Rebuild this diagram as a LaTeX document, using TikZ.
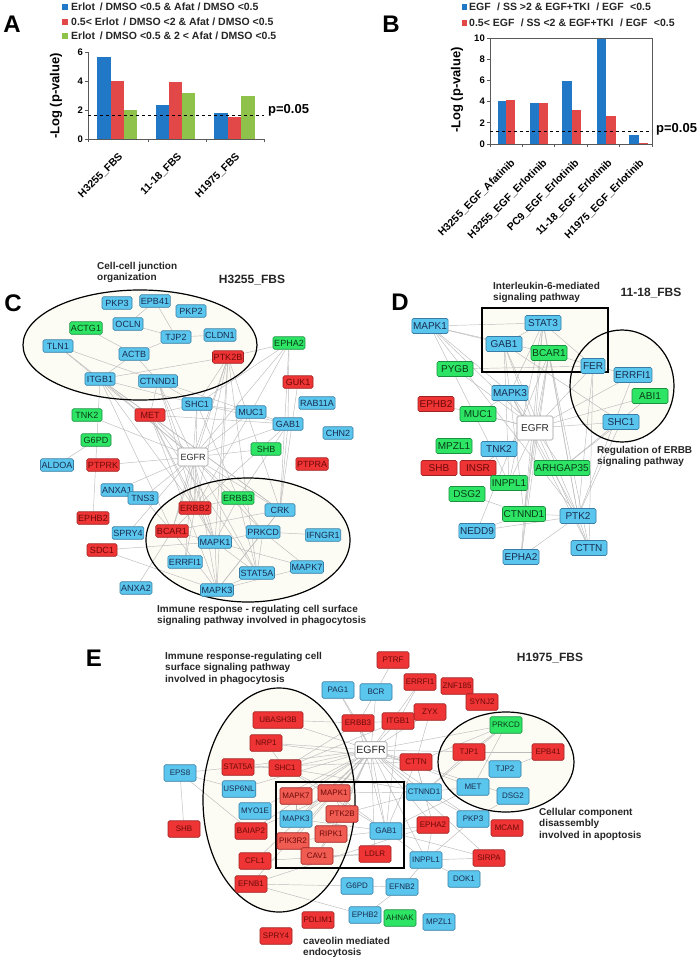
\documentclass[tikz,border=0pt]{standalone}
\usepackage{fontspec}
\setmainfont{Liberation Sans}
\definecolor{nblue}{RGB}{90,198,238}
\definecolor{nblueD}{RGB}{55,125,165}
\definecolor{nred}{RGB}{238,52,52}
\definecolor{nredL}{RGB}{240,92,82}
\definecolor{nredD}{RGB}{160,35,35}
\definecolor{ngreen}{RGB}{45,228,100}
\definecolor{ngreenD}{RGB}{25,145,65}
\definecolor{tblue}{RGB}{25,45,80}
\definecolor{tred}{RGB}{110,10,10}
\definecolor{tgreen}{RGB}{10,60,25}
\definecolor{edgegray}{RGB}{188,188,188}
\definecolor{cream}{RGB}{252,251,244}
\definecolor{barB}{RGB}{32,120,198}
\definecolor{barR}{RGB}{226,72,72}
\definecolor{barG}{RGB}{142,194,74}
\pgfdeclarelayer{bgfill}
\pgfdeclarelayer{edges}
\pgfsetlayers{bgfill,edges,main}
\begin{document}
\begin{tikzpicture}[x=1pt,y=-1pt,
  lnk/.style={draw=edgegray, line width=0.45pt},
  gbase/.style={draw, rounded corners=1.5pt, line width=0.6pt, inner xsep=1.2pt, inner ysep=1pt},
  pc/.style={gbase, font=\fontsize{9}{9}\selectfont, minimum width=30pt, minimum height=12.5pt},
  pd/.style={gbase, font=\fontsize{10}{10}\selectfont, minimum width=36pt, minimum height=15pt},
  pe/.style={gbase, font=\fontsize{8}{8}\selectfont, minimum width=32pt, minimum height=16.5pt},
  nb/.style={fill=nblue, draw=nblueD, text=tblue},
  nr/.style={fill=nred, draw=nredD, text=tred},
  nrl/.style={fill=nredL, draw=nredD, text=tred},
  ng/.style={fill=ngreen, draw=ngreenD, text=tgreen},
  nw/.style={fill=white, draw=gray!80, text=black!85},
  bigl/.style={font=\bfseries\fontsize{24}{24}\selectfont, inner sep=0pt},
  capt/.style={font=\bfseries\fontsize{10}{11.5}\selectfont, align=left, anchor=north west, inner sep=0pt, text=black!85},
  ttl/.style={font=\bfseries\fontsize{12}{12}\selectfont, text=black!85, inner sep=0pt},
  lg/.style={font=\bfseries\fontsize{10.5}{10.5}\selectfont, anchor=west, inner sep=0pt, text=black!85},
  tk/.style={font=\bfseries\fontsize{9.5}{9.5}\selectfont, anchor=east, inner sep=0pt},
  xl/.style={font=\bfseries\fontsize{10.5}{10.5}\selectfont, rotate=45, anchor=north east, inner sep=0pt},
  axl/.style={font=\bfseries\fontsize{13}{13}\selectfont, rotate=90, inner sep=0pt},
  pv/.style={font=\bfseries\fontsize{13}{13}\selectfont, anchor=west, inner sep=0pt},
  grp/.style={draw=black, line width=1.2pt},
]
\useasboundingbox (0,0) rectangle (700,960);
\begin{pgfonlayer}{bgfill}
\fill[white] (0,0) rectangle (700,960);
\end{pgfonlayer}

% ================= Panel A =================
\node[bigl] (lA) at (12,24) {A};
\fill[barB] (62,4) rectangle (68,10);
\node[lg] (lgA1) at (71,7) {Erlot\, / DMSO <0.5 \& Afat / DMSO <0.5};
\fill[barR] (62,19) rectangle (68,25);
\node[lg] (lgA2) at (71,22) {0.5< Erlot\, / DMSO <2 \& Afat / DMSO <0.5};
\fill[barG] (62,33) rectangle (68,39);
\node[lg] (lgA3) at (71,36) {Erlot\, / DMSO <0.5 \& 2 < Afat / DMSO <0.5};
\fill[barB] (97,139) rectangle (111,57);
\fill[barR] (111,139) rectangle (124,81);
\fill[barG] (124,139) rectangle (137,110);
\fill[barB] (156,139) rectangle (169,105);
\fill[barR] (169,139) rectangle (182,82);
\fill[barG] (182,139) rectangle (195,93);
\fill[barB] (214,139) rectangle (228,113);
\fill[barR] (228,139) rectangle (241,117);
\fill[barG] (241,139) rectangle (255,96);
\draw[line width=0.8pt,gray!70!black] (88,52) -- (88,139) -- (264,139);
\foreach \yy/\lab in {52/6,81/4,110/2,139/0}{
  \draw[line width=0.8pt,gray!70!black] (85,\yy) -- (88,\yy);
  \node[tk] at (83,\yy) {\lab};}
\foreach \xx in {88,148,206,264}{\draw[line width=0.8pt,gray!70!black] (\xx,139) -- (\xx,142);}
\draw[dashed, line width=0.8pt] (88,115) -- (264,115);
\node[pv] (pA) at (268,110) {p=0.05};
\node[axl] (yA) at (56,96) {-Log (p-value)};
\node[xl] (xA1) at (118,152) {H3255\_FBS};
\node[xl] (xA2) at (177,152) {11-18\_FBS};
\node[xl] (xA3) at (235,152) {H1975\_FBS};

% ================= Panel B =================
\node[bigl] (lB) at (391,24) {B};
\fill[barB] (462,4) rectangle (467,10);
\node[lg] (lgB1) at (469,7) {EGF\,\, / SS >2 \& EGF+TKI\,\, / EGF\,\, <0.5};
\fill[barR] (462,20) rectangle (467,26);
\node[lg] (lgB2) at (469,23) {0.5< EGF\,\, / SS <2 \& EGF+TKI\,\, / EGF\,\, <0.5};
\fill[barB] (498,144) rectangle (506,101);
\fill[barR] (506,144) rectangle (515,100.5);
\fill[barB] (530,144) rectangle (539,103.2);
\fill[barR] (539,144) rectangle (548,103.2);
\fill[barB] (562,144) rectangle (572,81);
\fill[barR] (572,144) rectangle (581,110);
\fill[barB] (597,144) rectangle (606,38);
\fill[barR] (606,144) rectangle (616,116.4);
\fill[barB] (629,144) rectangle (639,135.5);
\fill[barR] (639,144) rectangle (648,143);
\draw[line width=0.8pt,gray!70!black] (490,38) rectangle (652,144);
\foreach \yy/\lab in {38/10,59.2/8,80.4/6,101.6/4,122.8/2,144/0}{
  \draw[line width=0.8pt,gray!70!black] (487,\yy) -- (490,\yy);
  \node[tk] at (485,\yy) {\lab};}
\foreach \xx in {490,522.4,554.8,587.2,619.6,652}{\draw[line width=0.8pt,gray!70!black] (\xx,144) -- (\xx,147);}
\draw[dashed, line width=0.8pt] (490,131) -- (652,131);
\node[pv] (pB) at (656,129) {p=0.05};
\node[axl] (yB) at (457,90) {-Log (p-value)};
\node[xl] (xB1) at (510,158) {H3255\_EGF\_Afatinib};
\node[xl] (xB2) at (542,158) {H3255\_EGF\_Erlotinib};
\node[xl] (xB3) at (574,158) {PC9\_EGF\_Erlotinib};
\node[xl] (xB4) at (607,158) {11-18\_EGF\_Erlotinib};
\node[xl] (xB5) at (639,158) {H1975\_EGF\_Erlotinib};

% ================= Panel C =================
\node[bigl] (lC) at (13,303) {C};
\node[capt] (capC1) at (97,262) {Cell-cell junction\\organization};
\node[ttl] (tC) at (252,280) {H3255\_FBS};
\begin{pgfonlayer}{bgfill}
\fill[cream] (140,345) ellipse [x radius=117pt, y radius=55pt];
\fill[cream] (248,540) ellipse [x radius=102pt, y radius=62pt];
\end{pgfonlayer}
\draw[grp] (140,345) ellipse [x radius=117pt, y radius=55pt];
\draw[grp] (248,540) ellipse [x radius=102pt, y radius=62pt];
\node[capt] (capC2) at (157,605) {Immune response - regulating cell surface\\signaling pathway involved in phagocytosis};

\node[pc,nb] (cPKP3) at (117,303) {PKP3};
\node[pc,nb] (cEPB41) at (155,301) {EPB41};
\node[pc,nb] (cPKP2) at (191,311) {PKP2};
\node[pc,nb] (cOCLN) at (128,324) {OCLN};
\node[pc,ng] (cACTG1) at (86,328) {ACTG1};
\node[pc,nb] (cTJP2) at (176,337) {TJP2};
\node[pc,nb] (cCLDN1) at (220,335) {CLDN1};
\node[pc,nb] (cTLN1) at (58,346) {TLN1};
\node[pc,nb] (cACTB) at (134,354) {ACTB};
\node[pc,ng] (cEPHA2) at (289,343) {EPHA2};
\node[pc,nr] (cPTK2B) at (228,357) {PTK2B};
\node[pc,nb] (cITGB1) at (100,379) {ITGB1};
\node[pc,nb] (cCTNND1) at (158,381) {CTNND1};
\node[pc,nr] (cGUK1) at (298,382) {GUK1};
\node[pc,nb] (cSHC1) at (197,404) {SHC1};
\node[pc,nb] (cRAB11A) at (317,403) {RAB11A};
\node[pc,nb] (cMUC1) at (251,412) {MUC1};
\node[pc,ng] (cTNK2) at (87,415) {TNK2};
\node[pc,nr] (cMET) at (150,415) {MET};
\node[pc,nb] (cGAB1) at (288,424) {GAB1};
\node[pc,nb] (cCHN2) at (338,433) {CHN2};
\node[pc,ng] (cG6PD) at (96,440) {G6PD};
\node[pc,ng] (cSHB) at (266,449) {SHB};
\node[pc,nw,minimum height=18pt] (cEGFR) at (193,457) {EGFR};
\node[pc,nb] (cALDOA) at (57,465) {ALDOA};
\node[pc,nr] (cPTPRK) at (103,465) {PTPRK};
\node[pc,nr] (cPTPRA) at (312,464) {PTPRA};
\node[pc,nb] (cANXA1) at (117,490) {ANXA1};
\node[pc,nb] (cTNS3) at (143,498) {TNS3};
\node[pc,ng] (cERBB3) at (238,498) {ERBB3};
\node[pc,nr] (cERBB2) at (195,508) {ERBB2};
\node[pc,nb] (cCRK) at (280,510) {CRK};
\node[pc,nr] (cEPHB2) at (93,518) {EPHB2};
\node[pc,nr] (cBCAR1) at (172,531) {BCAR1};
\node[pc,nb] (cSPRY4) at (128,533) {SPRY4};
\node[pc,nb] (cPRKCD) at (263,532) {PRKCD};
\node[pc,nb] (cIFNGR1) at (323,535) {IFNGR1};
\node[pc,nb] (cMAPK1) at (215,542) {MAPK1};
\node[pc,nr] (cSDC1) at (102,550) {SDC1};
\node[pc,nb] (cERRFI1) at (185,562) {ERRFI1};
\node[pc,nb] (cMAPK7) at (307,567) {MAPK7};
\node[pc,nb] (cSTAT5A) at (257,573) {STAT5A};
\node[pc,nb] (cANXA2) at (136,588) {ANXA2};
\node[pc,nb] (cMAPK3) at (217,590) {MAPK3};

\begin{pgfonlayer}{edges}
\foreach \a/\b in {EPB41/OCLN,EPB41/TJP2,OCLN/TJP2,TJP2/CLDN1,TJP2/ACTB,ACTG1/ACTB,TLN1/ITGB1,TLN1/CTNND1,ACTB/ITGB1,ACTB/CTNND1,
  PTK2B/ITGB1,PTK2B/SHC1,PTK2B/EGFR,PTK2B/BCAR1,PTK2B/MAPK1,PTK2B/CRK,PTK2B/ERBB2,PTK2B/MAPK3,PTK2B/STAT5A,
  EPHA2/PTK2B,EPHA2/MUC1,EPHA2/GAB1,EPHA2/EGFR,EPHA2/SHC1,EPHA2/CRK,
  ITGB1/EGFR,ITGB1/MET,ITGB1/SHC1,ITGB1/ERBB2,ITGB1/BCAR1,ITGB1/CRK,TLN1/EGFR,
  CTNND1/EGFR,CTNND1/MET,CTNND1/ERBB2,CTNND1/SHC1,CTNND1/MUC1,CTNND1/MAPK1,
  SHC1/EGFR,SHC1/ERBB2,SHC1/ERBB3,SHC1/MET,SHC1/GAB1,SHC1/MUC1,
  MUC1/EGFR,MUC1/ERBB2,MUC1/GAB1,GAB1/EGFR,GAB1/ERBB2,GAB1/MET,GAB1/CRK,GAB1/ERBB3,GUK1/CRK,
  MET/EGFR,MET/ERBB2,MET/CRK,MET/MAPK1,MET/MAPK3,MET/STAT5A,
  TNK2/EGFR,G6PD/ALDOA,SHB/EGFR,PTPRK/EGFR,ANXA1/EGFR,TNS3/EGFR,ERBB3/EGFR,ERBB2/EGFR,CRK/EGFR,PRKCD/EGFR,
  MAPK1/EGFR,MAPK3/EGFR,STAT5A/EGFR,BCAR1/EGFR,ERRFI1/EGFR,SPRY4/EGFR,
  ERBB2/ERBB3,ERBB2/ERRFI1,ERBB2/MAPK1,ERBB2/BCAR1,ERBB3/PRKCD,ERBB3/MAPK1,ERBB3/STAT5A,
  BCAR1/CRK,BCAR1/MAPK1,BCAR1/MAPK3,BCAR1/ANXA2,CRK/PRKCD,CRK/MAPK3,
  PRKCD/IFNGR1,PRKCD/STAT5A,PRKCD/MAPK1,PRKCD/MAPK3,MAPK1/MAPK3,MAPK1/STAT5A,MAPK1/SDC1,
  MAPK3/STAT5A,MAPK3/MAPK7,MAPK7/MAPK1,MAPK7/PRKCD,EPHB2/ITGB1,SDC1/MAPK3,ANXA1/TNS3,TNS3/BCAR1}
  {\draw[lnk] (c\a) -- (c\b);}
\end{pgfonlayer}

% ================= Panel D =================
\node[bigl] (lD) at (400,302) {D};
\node[capt] (capD1) at (493,282) {Interleukin-6-mediated\\signaling pathway};
\node[ttl] (tD) at (651,293) {11-18\_FBS};
\begin{pgfonlayer}{bgfill}
\fill[cream] (482,308) rectangle (608,372);
\fill[cream] (622,386) ellipse [x radius=52pt, y radius=56pt];
\end{pgfonlayer}
\draw[grp] (482,308) rectangle (608,372);
\draw[grp] (622,386) ellipse [x radius=52pt, y radius=56pt];
\node[capt] (capD2) at (597,446) {Regulation of ERBB\\signaling pathway};

\node[pd,nb] (dMAPK1) at (430,326) {MAPK1};
\node[pd,nb] (dSTAT3) at (543,323) {STAT3};
\node[pd,nb] (dGAB1) at (504,344) {GAB1};
\node[pd,ng] (dBCAR1) at (549,353) {BCAR1};
\node[pd,nb,minimum width=24pt] (dFER) at (593,366) {FER};
\node[pd,ng] (dPYGB) at (455,369) {PYGB};
\node[pd,nb] (dERRFI1) at (633,375) {ERRFI1};
\node[pd,nb] (dMAPK3) at (510,393) {MAPK3};
\node[pd,ng] (dABI1) at (650,396) {ABI1};
\node[pd,nr] (dEPHB2) at (436,404) {EPHB2};
\node[pd,ng] (dMUC1) at (478,414) {MUC1};
\node[pd,nb] (dSHC1) at (621,422) {SHC1};
\node[pd,nw,minimum height=24pt] (dEGFR) at (535,428) {EGFR};
\node[pd,ng] (dMPZL1) at (454,446) {MPZL1};
\node[pd,nb] (dTNK2) at (499,449) {TNK2};
\node[pd,nr] (dSHB) at (439,468) {SHB};
\node[pd,nr] (dINSR) at (478,468) {INSR};
\node[pd,ng] (dARHGAP35) at (562,468) {ARHGAP35};
\node[pd,ng] (dINPPL1) at (509,483) {INPPL1};
\node[pd,ng] (dDSG2) at (467,494) {DSG2};
\node[pd,ng] (dCTNND1) at (524,514) {CTNND1};
\node[pd,nb] (dPTK2) at (578,516) {PTK2};
\node[pd,nb] (dNEDD9) at (477,531) {NEDD9};
\node[pd,nb] (dCTTN) at (589,548) {CTTN};
\node[pd,nb] (dEPHA2) at (521,557) {EPHA2};

\begin{pgfonlayer}{edges}
\foreach \a/\b in {MAPK1/STAT3,MAPK1/GAB1,MAPK1/BCAR1,MAPK1/EGFR,MAPK1/MAPK3,MAPK1/INPPL1,MAPK1/PTK2,
  STAT3/GAB1,STAT3/FER,STAT3/EGFR,STAT3/MAPK3,STAT3/INPPL1,STAT3/PTK2,STAT3/BCAR1,STAT3/CTNND1,
  GAB1/EGFR,GAB1/SHC1,GAB1/PTK2,GAB1/INPPL1,GAB1/CTNND1,
  BCAR1/EGFR,BCAR1/PTK2,BCAR1/NEDD9,BCAR1/CTTN,BCAR1/FER,BCAR1/EPHA2,BCAR1/CTNND1,
  FER/CTTN,FER/EGFR,FER/PTK2,FER/ERRFI1,ERRFI1/EGFR,SHC1/EGFR,ABI1/EGFR,MAPK3/EGFR,PYGB/FER,PYGB/EGFR,
  EPHB2/EGFR,MUC1/EGFR,MUC1/MAPK3,TNK2/EGFR,INSR/EGFR,INSR/INPPL1,ARHGAP35/EGFR,INPPL1/EGFR,
  CTNND1/EGFR,CTNND1/PTK2,CTNND1/EPHA2,NEDD9/PTK2,NEDD9/CTNND1,EPHA2/EGFR,EPHA2/PTK2,
  CTTN/PTK2,CTTN/EGFR,DSG2/CTNND1,SHC1/PTK2,ERRFI1/PTK2,ABI1/ARHGAP35,SHC1/ARHGAP35,MAPK3/PTK2,MAPK3/CTTN}
  {\draw[lnk] (d\a) -- (d\b);}
\end{pgfonlayer}

% ================= Panel E =================
\node[bigl] (lE) at (94,658) {E};
\node[capt] (capE1) at (165,652) {Immune response-regulating cell\\surface signaling pathway\\involved in phagocytosis};
\node[ttl] (tE) at (550,658) {H1975\_FBS};
\begin{pgfonlayer}{bgfill}
\fill[cream] (279,800) ellipse [x radius=76pt, y radius=112pt];
\fill[cream] (506,762) ellipse [x radius=68pt, y radius=50pt];
\end{pgfonlayer}
\draw[grp] (279,800) ellipse [x radius=76pt, y radius=112pt];
\draw[grp] (276,782) rectangle (404,868);
\draw[grp] (506,762) ellipse [x radius=68pt, y radius=50pt];
\node[capt] (capE2) at (539,808) {Cellular component\\disassembly\\involved in apoptosis};
\node[capt] (capE3) at (303,937) {caveolin mediated\\endocytosis};

\node[pe,nr] (ePTRF) at (393,660) {PTRF};
\node[pe,nr] (eERRFI1) at (420,682) {ERRFI1};
\node[pe,nr] (eZNF185) at (457,686) {ZNF185};
\node[pe,nb] (eBCR) at (376,692) {BCR};
\node[pe,nb] (ePAG1) at (338,690) {PAG1};
\node[pe,nr] (eSYNJ2) at (482,702) {SYNJ2};
\node[pe,nr] (eZYX) at (430,712) {ZYX};
\node[pe,nr] (eITGB1) at (398,721) {ITGB1};
\node[pe,nr] (eERBB3) at (358,723) {ERBB3};
\node[pe,nr,minimum width=50pt] (eUBASH3B) at (278,720) {UBASH3B};
\node[pe,ng] (ePRKCD) at (506,725) {PRKCD};
\node[pe,nr] (eNRP1) at (266,743) {NRP1};
\node[pe,nw,font=\fontsize{10.5}{10.5}\selectfont] (eEGFR) at (371,750) {EGFR};
\node[pe,nr] (eTJP1) at (469,752) {TJP1};
\node[pe,nr] (eEPB41) at (548,752) {EPB41};
\node[pe,nr] (eCTTN) at (416,762) {CTTN};
\node[pe,nr] (eSTAT5A) at (238,767) {STAT5A};
\node[pe,nr] (eSHC1) at (285,768) {SHC1};
\node[pe,nb] (eEPS8) at (180,773) {EPS8};
\node[pe,nb] (eTJP2) at (505,769) {TJP2};
\node[pe,nb] (eUSP6NL) at (239,789) {USP6NL};
\node[pe,nrl] (eMAPK7) at (296,796) {MAPK7};
\node[pe,nrl] (eMAPK1) at (334,793) {MAPK1};
\node[pe,nb] (eCTNND1) at (424,792) {CTNND1};
\node[pe,nb] (eMET) at (473,787) {MET};
\node[pe,nb] (eDSG2) at (513,796) {DSG2};
\node[pe,nb] (eMYO1E) at (255,811) {MYO1E};
\node[pe,nb] (eMAPK3) at (296,819) {MAPK3};
\node[pe,nrl] (ePTK2B) at (342,814) {PTK2B};
\node[pe,nb] (ePKP3) at (473,819) {PKP3};
\node[pe,nr] (eMCAM) at (507,828) {MCAM};
\node[pe,nr] (eEPHA2) at (433,825) {EPHA2};
\node[pe,nr] (eBAIAP2) at (251,831) {BAIAP2};
\node[pe,nr] (eSHB) at (184,829) {SHB};
\node[pe,nb] (eGAB1) at (386,831) {GAB1};
\node[pe,nrl] (eRIPK1) at (331,834) {RIPK1};
\node[pe,nrl] (ePIK3R2) at (293,841) {PIK3R2};
\node[pe,nr] (eLDLR) at (375,854) {LDLR};
\node[pe,nrl] (eCAV1) at (317,856) {CAV1};
\node[pe,nr] (eSIRPA) at (489,858) {SIRPA};
\node[pe,nb] (eINPPL1) at (426,860) {INPPL1};
\node[pe,nr] (eCFL1) at (255,861) {CFL1};
\node[pe,nb] (eDOK1) at (464,879) {DOK1};
\node[pe,nr] (eEFNB1) at (251,884) {EFNB1};
\node[pe,nb] (eG6PD) at (357,886) {G6PD};
\node[pe,nb] (eEFNB2) at (402,887) {EFNB2};
\node[pe,nb] (eEPHB2) at (365,915) {EPHB2};
\node[pe,ng] (eAHNAK) at (400,918) {AHNAK};
\node[pe,nb] (eMPZL1) at (439,922) {MPZL1};
\node[pe,nr] (ePDLIM1) at (318,920) {PDLIM1};
\node[pe,nr] (eSPRY4) at (276,936) {SPRY4};

\begin{pgfonlayer}{edges}
\foreach \b in {PAG1,BCR,ERBB3,ITGB1,CTTN,CTNND1,SHC1,STAT5A,NRP1,UBASH3B,MAPK1,MAPK3,MAPK7,PTK2B,GAB1,RIPK1,PIK3R2,CAV1,LDLR,
  EPHA2,INPPL1,PRKCD,TJP1,MET,ERRFI1,USP6NL,MYO1E,BAIAP2,CFL1,EFNB1,SIRPA,PKP3,DSG2,ZYX}
  {\draw[lnk] (eEGFR) -- (e\b);}
\foreach \a/\b in {PTRF/BCR,BCR/ERBB3,PAG1/ERBB3,ERRFI1/ITGB1,ZYX/CTTN,ITGB1/ERBB3,ITGB1/SHC1,ITGB1/GAB1,
  EPS8/SHB,EPS8/STAT5A,EPS8/BAIAP2,EPS8/USP6NL,PRKCD/TJP1,PRKCD/MET,PRKCD/CTNND1,PRKCD/CTTN,
  TJP1/EPB41,TJP1/TJP2,TJP2/EPB41,TJP1/CTNND1,MET/CTNND1,DSG2/PKP3,CTNND1/PKP3,
  INPPL1/DOK1,INPPL1/EPHA2,INPPL1/GAB1,INPPL1/SIRPA,INPPL1/EFNB2,EFNB2/G6PD,EFNB2/EPHB2,EFNB1/G6PD,EFNB1/EPHB2,
  NRP1/SHC1,STAT5A/SHC1,SHC1/MAPK1,SHC1/GAB1,MAPK1/MAPK3,MAPK7/MAPK3,MAPK1/PTK2B,PTK2B/RIPK1,PIK3R2/CAV1,
  CAV1/RIPK1,CAV1/LDLR,GAB1/PIK3R2,GAB1/MAPK1,EPHA2/GAB1,SIRPA/GAB1,EPHA2/CTTN,CFL1/LDLR,
  UBASH3B/ERBB3,NRP1/CTTN,STAT5A/CTTN,SHC1/ERBB3,ERBB3/GAB1,SHC1/CTNND1,MAPK1/CTNND1,PTK2B/CTNND1,
  MAPK3/GAB1,BAIAP2/MAPK1,CTTN/CTNND1,CTTN/GAB1,MET/GAB1,EPHA2/EFNB1,PKP3/INPPL1}
  {\draw[lnk] (e\a) -- (e\b);}
\end{pgfonlayer}
\end{tikzpicture}
\end{document}
